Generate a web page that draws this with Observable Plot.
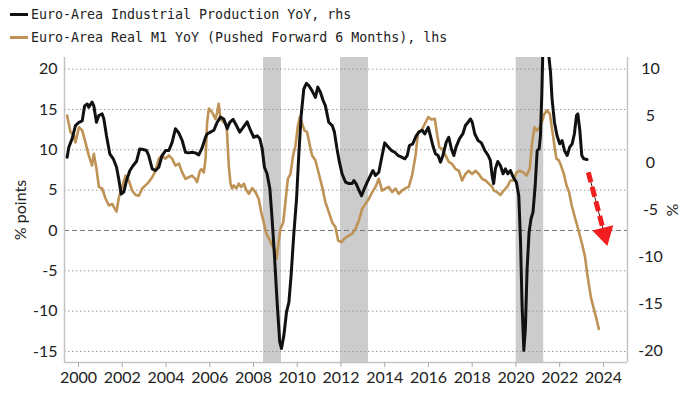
<!DOCTYPE html>
<html>
<head>
<meta charset="utf-8">
<script src="https://cdn.jsdelivr.net/npm/d3@7"></script>
<script src="https://cdn.jsdelivr.net/npm/@observablehq/plot@0.6"></script>
<style>
  html, body { margin: 0; padding: 0; background: #fff; width: 700px; height: 394px; overflow: hidden; }
  #legend { height: 50px; position: relative; font-family: "DejaVu Sans Mono", monospace; font-size: 13.3px; color: #222; }
  .row { position: absolute; left: 10px; display: flex; align-items: center; height: 18px; }
  .sw { width: 18px; height: 3px; margin-right: 3px; }
  #chart svg { display: block; }
</style>
</head>
<body>
<div id="legend"></div>
<div id="chart"></div>
<script>
// ---- Data ----
const seriesNames = [
  "Euro-Area Industrial Production YoY, rhs",
  "Euro-Area Real M1 YoY (Pushed Forward 6 Months), lhs"
];
const seriesColors = ["#111111", "#bf9255"];

// Euro-Area Real M1 YoY (lhs, % points), decimal years
const m1Years = [1999.48,1999.63,1999.79,1999.86,2000.02,2000.17,2000.32,2000.47,2000.62,2000.70,2000.82,2000.93,2001.08,2001.23,2001.39,2001.54,2001.62,2001.74,2001.84,2001.97,2002.15,2002.30,2002.45,2002.61,2002.76,2002.91,2003.06,2003.21,2003.37,2003.52,2003.67,2003.82,2003.98,2004.13,2004.28,2004.43,2004.59,2004.74,2004.89,2005.04,2005.19,2005.34,2005.42,2005.55,2005.62,2005.73,2005.81,2005.88,2005.96,2006.11,2006.26,2006.34,2006.41,2006.49,2006.64,2006.77,2006.87,2006.95,2007.02,2007.10,2007.22,2007.33,2007.44,2007.56,2007.68,2007.79,2007.94,2008.09,2008.24,2008.35,2008.47,2008.59,2008.75,2008.85,2008.96,2009.05,2009.13,2009.23,2009.36,2009.46,2009.57,2009.69,2009.81,2009.92,2010.03,2010.12,2010.23,2010.33,2010.45,2010.58,2010.68,2010.83,2010.99,2011.14,2011.29,2011.44,2011.60,2011.75,2011.87,2012.02,2012.18,2012.36,2012.51,2012.66,2012.82,2012.97,2013.12,2013.27,2013.43,2013.58,2013.73,2013.88,2014.03,2014.19,2014.34,2014.49,2014.64,2014.80,2014.95,2015.10,2015.25,2015.41,2015.53,2015.68,2015.83,2015.99,2016.14,2016.29,2016.40,2016.50,2016.63,2016.78,2016.93,2017.08,2017.23,2017.39,2017.54,2017.69,2017.84,2018.00,2018.15,2018.30,2018.45,2018.61,2018.76,2018.91,2018.99,2019.14,2019.29,2019.44,2019.60,2019.75,2019.90,2020.02,2020.17,2020.33,2020.48,2020.63,2020.74,2020.85,2020.97,2021.09,2021.20,2021.30,2021.42,2021.55,2021.65,2021.76,2021.85,2021.96,2022.06,2022.19,2022.31,2022.43,2022.55,2022.67,2022.80,2022.92,2023.04,2023.16,2023.25,2023.34,2023.44,2023.56,2023.68,2023.79];
const m1Values = [14.25,12.2,11.8,10.9,12.8,12.4,10.9,9.3,8.05,9.5,7.7,5.4,5.2,4.0,3.1,3.3,2.9,2.35,4.0,5.2,6.8,6.2,4.95,4.4,4.3,5.2,5.6,6.0,6.6,7.4,8.9,9.3,8.9,9.3,8.9,8.05,8.3,7.2,6.4,6.6,6.8,6.4,6.0,7.4,7.6,7.2,8.9,13.4,15.1,14.65,13.8,14.65,15.7,13.8,13.4,13.2,8.05,5.8,5.2,5.6,5.2,5.8,5.4,5.8,4.95,4.55,5.25,4.75,3.9,2.3,1.0,-0.4,-1.2,-1.85,-2.3,-3.5,-1.85,0.2,1.0,3.5,6.4,7.0,9.3,10.5,13.0,14.05,13.2,12.4,12.2,10.5,9.3,8.7,7.0,5.4,3.5,2.3,1.0,0.4,-1.24,-1.45,-0.95,-0.62,-0.41,0.2,1.24,2.7,3.3,3.9,4.75,5.4,6.4,4.95,5.2,5.4,4.75,5.2,4.55,4.95,5.25,5.4,6.8,9.3,12.2,12.4,13.2,14.05,13.75,13.85,11.8,10.3,10.1,9.3,8.5,8.25,7.65,7.4,6.2,7.0,7.4,7.0,7.4,7.0,6.4,6.2,5.8,5.4,4.95,4.75,4.4,4.95,5.4,6.2,6.2,7.2,7.4,7.2,6.8,7.65,10.9,12.8,12.4,12.8,13.6,14.45,14.9,14.45,12.6,10.5,8.9,8.7,8.05,7.0,5.6,4.75,3.1,1.86,0.62,-0.62,-1.86,-3.3,-5.2,-6.8,-8.45,-9.7,-10.95,-12.2];

// Euro-Area Industrial Production YoY (rhs, %), decimal years
const ipYears = [1999.48,1999.56,1999.71,1999.86,2000.02,2000.17,2000.28,2000.40,2000.47,2000.62,2000.70,2000.82,2000.93,2001.08,2001.16,2001.28,2001.43,2001.59,2001.74,2001.84,2001.95,2002.07,2002.19,2002.35,2002.50,2002.65,2002.80,2002.96,2003.11,2003.21,2003.37,2003.52,2003.67,2003.82,2003.98,2004.13,2004.28,2004.43,2004.59,2004.74,2004.89,2005.04,2005.19,2005.34,2005.50,2005.65,2005.80,2005.88,2006.03,2006.19,2006.34,2006.49,2006.64,2006.80,2006.92,2007.07,2007.22,2007.37,2007.53,2007.71,2007.86,2008.01,2008.17,2008.29,2008.40,2008.50,2008.62,2008.75,2008.85,2008.96,2009.08,2009.20,2009.28,2009.39,2009.51,2009.62,2009.72,2009.84,2009.97,2010.07,2010.18,2010.30,2010.42,2010.53,2010.68,2010.83,2010.94,2011.06,2011.18,2011.29,2011.44,2011.60,2011.70,2011.82,2011.93,2012.05,2012.21,2012.36,2012.51,2012.59,2012.69,2012.82,2012.94,2013.04,2013.20,2013.35,2013.46,2013.58,2013.73,2013.88,2014.00,2014.16,2014.31,2014.46,2014.61,2014.77,2014.92,2015.03,2015.13,2015.28,2015.44,2015.56,2015.71,2015.83,2015.99,2016.09,2016.20,2016.32,2016.44,2016.55,2016.66,2016.81,2016.93,2017.05,2017.16,2017.26,2017.42,2017.57,2017.69,2017.81,2017.92,2018.00,2018.12,2018.27,2018.42,2018.58,2018.73,2018.83,2018.91,2018.98,2019.06,2019.17,2019.29,2019.41,2019.52,2019.63,2019.75,2019.87,2020.02,2020.13,2020.21,2020.28,2020.36,2020.43,2020.51,2020.60,2020.69,2020.78,2020.88,2020.97,2021.06,2021.12,2021.18,2021.22,2021.30,2021.40,2021.50,2021.58,2021.65,2021.76,2021.88,2022.00,2022.11,2022.22,2022.34,2022.46,2022.57,2022.67,2022.77,2022.83,2022.92,2023.01,2023.10,2023.25];
const ipValues = [0.62,1.7,2.6,4.0,4.35,4.5,6.1,6.3,5.95,6.5,6.1,4.35,5.07,5.25,4.7,2.9,0.98,0.45,-0.45,-1.7,-3.3,-3.1,-1.9,-0.8,-0.27,0.16,1.5,1.44,1.33,0.8,-0.62,-0.8,-0.45,0.8,1.33,1.33,2.2,3.65,3.2,2.4,1.15,1.08,1.15,1.08,0.87,1.6,2.7,3.1,3.3,3.5,4.35,4.9,4.7,3.65,4.35,4.65,4.0,3.3,3.8,4.4,3.5,2.75,2.9,2.6,1.5,-0.45,-1.15,-2.75,-5.95,-9.9,-14.85,-19.1,-19.8,-18.4,-15.9,-14.85,-12.0,-7.7,-3.8,0.8,5.07,7.9,8.5,8.27,7.7,7.0,8.1,7.55,6.7,6.1,4.35,4.0,3.3,1.5,0.09,-1.15,-2.05,-2.2,-2.2,-1.87,-2.2,-2.9,-3.5,-2.9,-2.05,-1.33,-0.8,-1.33,-0.98,0.8,2.15,1.7,1.33,1.15,0.8,0.62,0.45,0.8,1.87,2.05,2.9,3.3,3.5,3.1,3.8,2.9,1.87,0.98,0.8,0.09,0.8,2.2,2.75,1.5,0.8,1.7,2.6,3.1,4.0,4.35,4.7,4.35,3.1,2.4,2.15,1.33,0.8,0.27,-1.33,-2.2,-0.62,0.16,-0.27,-1.15,-0.62,-1.15,-0.8,-1.5,-2.05,-3.5,-8.45,-15.2,-20.0,-17.7,-11.3,-7.4,-5.95,-5.25,-2.4,1.33,1.5,2.9,7.2,11.0,38,20,11.5,9.7,6.85,4.35,2.9,2.05,2.4,1.33,0.8,1.7,2.05,3.1,5.07,5.25,3.5,0.8,0.45,0.37];

// Recession shading (decimal years)
const recessionStarts = [2008.46, 2011.98, 2020.01];
const recessionEnds   = [2009.28, 2013.26, 2021.27];

// Axis ticks
const xTicks = [2000,2002,2004,2006,2008,2010,2012,2014,2016,2018,2020,2022,2024];
const leftTicks = [-15,-10,-5,0,5,10,15,20];
const rightTicks = [-20,-15,-10,-5,0,5,10];

// Red annotation arrow (left-axis units)
const arrowStart = {x: 2023.31, y: 7.2};
const arrowEnd = {x: 2024.04, y: -0.42};

// ---- Scales ----
const xDomain = [1999.36, 2025.1];
const yDomain = [-16.36, 21.44];
// right-axis (%) to left-axis (% points) mapping, as drawn on the picture
const toLeft = r => 8.364 + 1.1611 * r;
const fromLeft = l => (l - 8.364) / 1.1611;

const m1 = m1Years.map((x, i) => ({x, y: m1Values[i]}));
const ip = ipYears.map((x, i) => ({x, y: ipValues[i]}));
const recessions = recessionStarts.map((s, i) => ({s, e: recessionEnds[i]}));

// ---- Legend ----
const legend = document.getElementById("legend");
seriesNames.forEach((name, i) => {
  const row = document.createElement("div");
  row.className = "row";
  row.style.top = (i === 0 ? 5 : 28) + "px";
  const sw = document.createElement("span");
  sw.className = "sw";
  sw.style.background = seriesColors[i];
  const t = document.createElement("span");
  t.textContent = name;
  row.appendChild(sw);
  row.appendChild(t);
  legend.appendChild(row);
});

// ---- Chart ----
const gridTicks = leftTicks.filter(d => d !== 0);
const chart = Plot.plot({
  width: 700,
  height: 344,
  marginTop: 7,
  marginBottom: 32,
  marginLeft: 64,
  marginRight: 73,
  x: {type: "linear", domain: xDomain},
  y: {domain: yDomain},
  style: {fontFamily: "Lato, 'Open Sans', sans-serif", fontSize: "16px", color: "#222", background: "#fff"},
  marks: [
    Plot.rect(recessions, {x1: "s", x2: "e", fill: "#cccccc"}),
    Plot.ruleY(gridTicks, {stroke: "#9a9a9a", strokeWidth: 1, strokeDasharray: "1.5,2.5"}),
    Plot.ruleY([0], {stroke: "#777", strokeWidth: 1, strokeDasharray: "5,3"}),
    Plot.ruleX(xDomain, {stroke: "#c4c4c4", strokeWidth: 1.5}),
    Plot.ruleY([yDomain[0]], {stroke: "#c4c4c4", strokeWidth: 1.5}),
    Plot.line(m1, {x: "x", y: "y", stroke: seriesColors[1], strokeWidth: 2.6, clip: true}),
    Plot.line(ip, {x: "x", y: d => toLeft(d.y), stroke: seriesColors[0], strokeWidth: 3, clip: true}),
    Plot.link([{...arrowStart, x2: arrowEnd.x, y2: arrowEnd.y}], {x1: "x", y1: "y", x2: "x2", y2: "y2", stroke: "#5a1010", strokeWidth: 1}),
    Plot.link([{...arrowStart, x2: arrowEnd.x, y2: arrowEnd.y}], {x1: "x", y1: "y", x2: "x2", y2: "y2", stroke: "#f01e1e", strokeWidth: 5, strokeDasharray: "10,5"}),
    Plot.dot([arrowEnd], {x: "x", y: "y", symbol: "triangle", r: 8, fill: "#f01e1e", stroke: "none", rotate: 166}),
    Plot.axisX(xTicks, {tickFormat: d => String(d), tickSize: 5, tickPadding: 4, stroke: "#aaa", fill: "#222", label: null}),
    Plot.axisY(leftTicks, {anchor: "left", tickSize: 0, tickPadding: 7, tickFormat: d => String(d), fill: "#222",
      label: "% points", labelAnchor: "center", labelOffset: 50, labelArrow: "none"}),
    Plot.axisY(rightTicks.map(toLeft), {anchor: "right", tickSize: 0, tickPadding: 23, textAnchor: "middle", fill: "#222",
      tickFormat: d => String(Math.round(fromLeft(d))),
      label: "%", labelAnchor: "center", labelOffset: 50, labelArrow: "none"})
  ]
});
document.getElementById("chart").appendChild(chart);
</script>
</body>
</html>
